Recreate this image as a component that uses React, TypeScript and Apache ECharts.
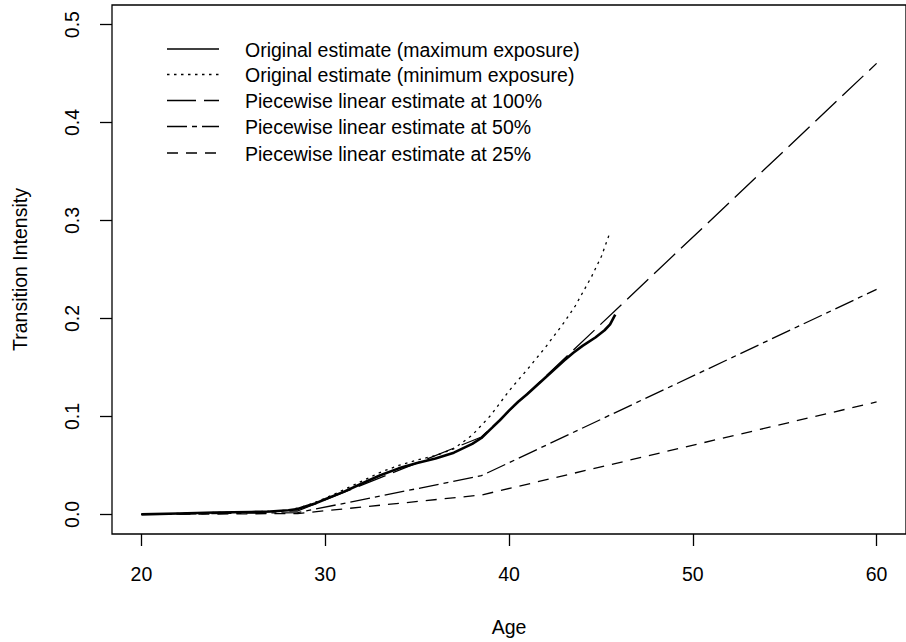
import React, { useEffect, useRef } from "react";
import * as echarts from "echarts";

// ---- data ----
const xTicks = [20, 30, 40, 50, 60];
const yTicks = [0, 0.1, 0.2, 0.3, 0.4, 0.5];

const legendLabels = [
  "Original estimate (maximum exposure)",
  "Original estimate (minimum exposure)",
  "Piecewise linear estimate at 100%",
  "Piecewise linear estimate at 50%",
  "Piecewise linear estimate at 25%",
];

// Original estimate (maximum exposure)
const origMaxAge = [20, 22, 24, 26, 27, 28, 28.5, 29, 29.5, 30, 31, 32, 33, 34, 35, 36, 37, 38, 38.5, 39, 39.5, 40, 40.5, 41, 42, 43, 43.5, 44, 44.7, 45.2, 45.5, 45.78];
const origMaxVal = [0, 0.001, 0.002, 0.0025, 0.003, 0.0042, 0.0055, 0.0085, 0.0115, 0.0155, 0.023, 0.0315, 0.04, 0.047, 0.0525, 0.057, 0.063, 0.072, 0.078, 0.087, 0.096, 0.106, 0.115, 0.123, 0.14, 0.157, 0.165, 0.172, 0.1806, 0.188, 0.194, 0.204];

// Original estimate (minimum exposure)
const origMinAge = [20, 22, 24, 26, 28, 29, 30, 31, 32, 33, 34, 35, 36, 37, 38, 39, 40, 40.4, 41, 42, 43, 43.6, 44.5, 45.03, 45.47];
const origMinVal = [0, 0.001, 0.002, 0.0025, 0.0042, 0.009, 0.0165, 0.025, 0.034, 0.043, 0.05, 0.0555, 0.06, 0.067, 0.081, 0.101, 0.126, 0.135, 0.148, 0.171, 0.196, 0.2127, 0.243, 0.2635, 0.2866];

// Piecewise linear estimates
const pw100Age = [20, 28.5, 38.5, 60];
const pw100Val = [0, 0.0035, 0.079, 0.4604];
const pw50Age = [20, 28.5, 38.5, 60];
const pw50Val = [0, 0.0018, 0.0395, 0.2297];
const pw25Age = [20, 28.5, 38.5, 60];
const pw25Val = [0, 0.0009, 0.0198, 0.1148];

const FONT = "'Liberation Sans', Arial, Helvetica, sans-serif";
const FS = 19.5;

const dashes: (number[] | null)[] = [null, [2.5, 4.5], [29, 8], [20, 5, 5, 5], [11, 8]];

function pairs(xs: number[], ys: number[]) {
  return xs.map((x, i) => [x, ys[i]]);
}

export default function App() {
  const ref = useRef<HTMLDivElement>(null);
  useEffect(() => {
    if (!ref.current) return;
    const chart = echarts.init(ref.current, undefined, { renderer: "svg" });

    const seriesData = [
      pairs(origMaxAge, origMaxVal),
      pairs(origMinAge, origMinVal),
      pairs(pw100Age, pw100Val),
      pairs(pw50Age, pw50Val),
      pairs(pw25Age, pw25Val),
    ];
    const widths = [2.6, 1.3, 1.3, 1.3, 1.3];

    const legendY = [49, 74.5, 100.5, 126.5, 153];
    const legendGraphics: any[] = [];
    legendLabels.forEach((lab, i) => {
      legendGraphics.push({
        type: "line",
        shape: { x1: 167, y1: legendY[i], x2: 219, y2: legendY[i] },
        style: { stroke: "#000", lineWidth: 1.3, lineDash: dashes[i] || undefined },
        silent: true,
      });
      legendGraphics.push({
        type: "text",
        x: 245,
        y: legendY[i] + 0.5,
        style: {
          text: lab,
          fill: "#000",
          font: `${FS}px ${FONT}`,
          textAlign: "left",
          textVerticalAlign: "middle",
        },
        silent: true,
      });
    });

    chart.setOption({
      animation: false,
      backgroundColor: "#fff",
      grid: {
        left: 112,
        top: 5,
        width: 802.7,
        height: 530,
        show: true,
        borderColor: "#000",
        borderWidth: 1.3,
        backgroundColor: "transparent",
      },
      xAxis: {
        type: "value",
        min: 18.4,
        max: 61.6,
        name: "Age",
        nameLocation: "middle",
        nameGap: 83,
        nameTextStyle: { fontFamily: FONT, fontSize: FS, color: "#000" },
        axisLine: { show: false, onZero: false },
        axisTick: {
          show: true,
          inside: false,
          length: 12,
          customValues: xTicks,
          lineStyle: { color: "#000", width: 1.3 },
        },
        axisLabel: {
          show: true,
          customValues: xTicks,
          margin: 30,
          fontFamily: FONT,
          fontSize: FS,
          color: "#000",
          formatter: (v: number) => String(v),
        },
        splitLine: { show: false },
      },
      yAxis: {
        type: "value",
        min: -0.02,
        max: 0.52,
        name: "Transition Intensity",
        nameLocation: "middle",
        nameGap: 82,
        nameRotate: 90,
        nameTextStyle: { fontFamily: FONT, fontSize: FS, color: "#000" },
        axisLine: { show: false, onZero: false },
        axisTick: {
          show: true,
          inside: false,
          length: 12,
          customValues: yTicks,
          lineStyle: { color: "#000", width: 1.3 },
        },
        axisLabel: {
          show: true,
          customValues: yTicks,
          rotate: 90,
          margin: 30,
          fontFamily: FONT,
          fontSize: FS,
          color: "#000",
          formatter: (v: number) => v.toFixed(1),
        },
        splitLine: { show: false },
      },
      graphic: legendGraphics,
      series: seriesData.map((d, i) => ({
        type: "line",
        name: legendLabels[i],
        data: d,
        showSymbol: false,
        symbol: "none",
        smooth: false,
        z: 10 - i,
        lineStyle: {
          color: "#000",
          width: widths[i],
          type: dashes[i] ? dashes[i] : "solid",
          cap: "butt",
          join: "round",
        },
        emphasis: { disabled: true },
      })),
    });

    return () => chart.dispose();
  }, []);

  return (
    <div
      ref={ref}
      style={{ position: "fixed", left: 0, top: 0, width: 906, height: 642, background: "#fff" }}
    />
  );
}
